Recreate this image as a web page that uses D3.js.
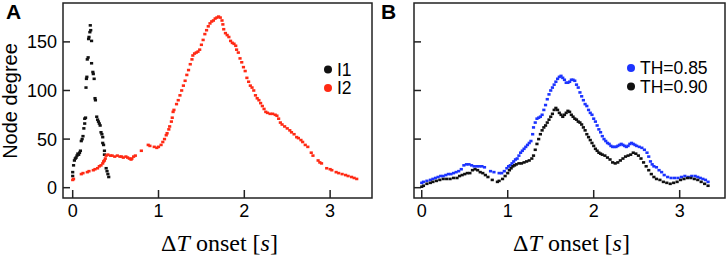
<!DOCTYPE html>
<html>

<head>
    <meta charset="utf-8">
    <title>Node degree vs onset</title>
    <script type="text/javascript" src="https://d3js.org/d3.v7.min.js"></script>
    <style>
        body {
            margin: 0;
            background: #fff;
        }

        svg {
            display: block;
        }
    </style>
</head>

<body>
</body>

<script type="text/javascript">
    var w = 726;
    var h = 257;

    // panel A, seizure I1 (black) and I2 (red): [onset s, node degree]
    var i1 = [[0.00, 12], [0.00, 16], [0.01, 23], [0.02, 28], [0.03, 30], [0.04, 31], [0.05, 33], [0.06, 35],
        [0.07, 34], [0.08, 36], [0.09, 38], [0.10, 48], [0.11, 50], [0.12, 53], [0.13, 61], [0.14, 66],
        [0.14, 71], [0.15, 72], [0.155, 103], [0.16, 112], [0.165, 114], [0.17, 132], [0.18, 134],
        [0.185, 153], [0.19, 155], [0.20, 160], [0.205, 167], [0.21, 162], [0.22, 151], [0.22, 128],
        [0.235, 119], [0.24, 117], [0.25, 112], [0.26, 92], [0.265, 90], [0.28, 73], [0.29, 70],
        [0.30, 68], [0.31, 66], [0.32, 64], [0.33, 57], [0.34, 55], [0.35, 52], [0.35, 46], [0.36, 44],
        [0.37, 38], [0.37, 34], [0.39, 20], [0.40, 17], [0.41, 14], [0.42, 11]];

    var i2 = [[0.00, 8], [0.01, 9], [0.10, 14], [0.12, 15], [0.17, 16], [0.19, 17], [0.24, 18], [0.26, 19],
        [0.29, 20], [0.31, 22], [0.33, 23], [0.35, 25], [0.36, 27], [0.37, 28], [0.38, 30], [0.39, 33],
        [0.41, 34], [0.44, 33], [0.46, 33], [0.49, 32], [0.52, 33], [0.55, 32], [0.57, 32], [0.59, 31],
        [0.62, 32], [0.64, 31], [0.66, 30], [0.68, 29], [0.69, 30], [0.71, 32], [0.73, 33], [0.80, 38],
        [0.88, 44], [0.90, 43], [0.95, 42], [0.98, 41], [1.00, 42], [1.03, 44], [1.05, 47], [1.07, 50],
        [1.09, 54], [1.10, 56], [1.12, 60], [1.13, 63], [1.15, 68], [1.16, 72], [1.17, 78], [1.18, 80],
        [1.21, 86], [1.23, 90], [1.25, 95], [1.27, 100], [1.29, 105], [1.31, 110], [1.33, 116], [1.35, 121],
        [1.37, 127], [1.39, 132], [1.40, 136], [1.42, 138], [1.44, 139], [1.46, 140], [1.48, 142], [1.50, 147],
        [1.52, 152], [1.54, 158], [1.56, 162], [1.58, 166], [1.60, 169], [1.62, 171], [1.64, 172], [1.66, 174],
        [1.68, 175], [1.70, 176], [1.72, 175], [1.74, 172], [1.75, 168], [1.76, 163], [1.78, 159], [1.80, 157],
        [1.82, 155], [1.84, 151], [1.86, 149], [1.88, 148], [1.90, 146], [1.91, 142], [1.93, 139], [1.95, 133],
        [1.97, 129], [1.99, 124], [2.01, 120], [2.03, 113], [2.05, 109], [2.07, 105], [2.09, 103], [2.11, 100],
        [2.13, 95], [2.15, 92], [2.17, 90], [2.19, 87], [2.21, 84], [2.23, 81], [2.25, 78], [2.27, 77],
        [2.30, 76], [2.33, 76], [2.36, 75], [2.38, 74], [2.40, 71], [2.42, 67], [2.44, 65], [2.47, 63],
        [2.50, 61], [2.53, 59], [2.55, 57], [2.58, 55], [2.61, 52], [2.63, 51], [2.66, 49], [2.68, 47],
        [2.71, 44], [2.74, 42], [2.78, 36], [2.80, 33], [2.86, 28], [2.88, 26], [2.90, 25], [2.96, 20],
        [3.00, 19], [3.02, 18], [3.07, 16], [3.10, 15], [3.14, 14], [3.18, 13], [3.21, 12], [3.25, 11],
        [3.28, 10], [3.31, 9]];

    // panel B, two thresholds
    var th85 = [[0.00, 5], [0.02, 6], [0.06, 7], [0.10, 8], [0.13, 9], [0.16, 10], [0.19, 11], [0.22, 12],
        [0.25, 12], [0.28, 13], [0.31, 14], [0.34, 14], [0.37, 15], [0.40, 16], [0.43, 17], [0.46, 19],
        [0.49, 23], [0.52, 24], [0.55, 24], [0.58, 23], [0.61, 22], [0.64, 22], [0.67, 22], [0.70, 22],
        [0.73, 21], [0.80, 17], [0.84, 16], [0.90, 15], [0.93, 15], [0.96, 17], [0.99, 20], [1.01, 22],
        [1.03, 23], [1.05, 25], [1.07, 27], [1.09, 29], [1.11, 30], [1.13, 33], [1.15, 36], [1.17, 38],
        [1.19, 40], [1.21, 42], [1.23, 44], [1.25, 46], [1.27, 48], [1.29, 55], [1.30, 62], [1.32, 67],
        [1.34, 71], [1.36, 72], [1.38, 73], [1.40, 75], [1.42, 80], [1.44, 85], [1.46, 91], [1.48, 96],
        [1.50, 100], [1.52, 103], [1.54, 106], [1.56, 109], [1.58, 112], [1.60, 114], [1.62, 115], [1.64, 113],
        [1.66, 111], [1.68, 108], [1.70, 108], [1.72, 109], [1.74, 111], [1.76, 111], [1.78, 110], [1.80, 106],
        [1.82, 103], [1.84, 98], [1.86, 94], [1.88, 90], [1.90, 86], [1.92, 84], [1.94, 80], [1.96, 77],
        [1.98, 75], [2.00, 71], [2.02, 68], [2.04, 64], [2.06, 60], [2.08, 57], [2.10, 53], [2.12, 50],
        [2.14, 48], [2.16, 46], [2.18, 45], [2.20, 43], [2.22, 42], [2.24, 42], [2.26, 42], [2.28, 43],
        [2.30, 44], [2.32, 45], [2.34, 44], [2.36, 43], [2.38, 42], [2.40, 43], [2.42, 45], [2.44, 46],
        [2.46, 45], [2.48, 44], [2.50, 43], [2.53, 42], [2.56, 41], [2.59, 39], [2.62, 36], [2.64, 32],
        [2.66, 27], [2.68, 24], [2.70, 22], [2.73, 21], [2.76, 18], [2.79, 16], [2.82, 13], [2.86, 11],
        [2.90, 10], [2.94, 10], [2.98, 10], [3.02, 11], [3.06, 12], [3.10, 11], [3.14, 12], [3.18, 12],
        [3.21, 11], [3.24, 10], [3.27, 9], [3.30, 8], [3.33, 6]];

    var th90 = [[0.00, 1], [0.02, 2], [0.06, 4], [0.10, 5], [0.13, 6], [0.17, 7], [0.21, 8], [0.25, 9],
        [0.29, 9], [0.33, 9], [0.37, 10], [0.41, 10], [0.44, 12], [0.47, 13], [0.50, 14], [0.53, 15],
        [0.56, 15], [0.59, 18], [0.62, 19], [0.65, 18], [0.68, 16], [0.71, 15], [0.74, 13], [0.77, 11],
        [0.82, 8], [0.88, 6], [0.90, 7], [0.94, 9], [0.97, 12], [1.00, 15], [1.02, 18], [1.04, 20],
        [1.06, 22], [1.08, 23], [1.10, 24], [1.13, 25], [1.16, 25], [1.19, 26], [1.22, 27], [1.25, 28],
        [1.28, 30], [1.30, 33], [1.32, 39], [1.34, 45], [1.36, 50], [1.38, 55], [1.40, 59], [1.42, 62],
        [1.44, 64], [1.46, 67], [1.48, 70], [1.50, 73], [1.52, 76], [1.54, 80], [1.56, 82], [1.58, 80],
        [1.60, 77], [1.62, 75], [1.64, 73], [1.66, 75], [1.68, 77], [1.70, 79], [1.72, 78], [1.74, 75],
        [1.76, 73], [1.78, 71], [1.80, 70], [1.82, 68], [1.84, 67], [1.86, 65], [1.88, 62], [1.90, 59],
        [1.92, 55], [1.94, 52], [1.96, 49], [1.98, 46], [2.00, 43], [2.02, 40], [2.04, 38], [2.06, 36],
        [2.08, 35], [2.10, 34], [2.13, 33], [2.16, 31], [2.19, 29], [2.22, 26], [2.25, 25], [2.28, 26],
        [2.31, 28], [2.34, 30], [2.37, 32], [2.40, 33], [2.43, 34], [2.46, 36], [2.49, 35], [2.52, 33],
        [2.55, 30], [2.58, 26], [2.61, 22], [2.64, 18], [2.67, 14], [2.70, 11], [2.73, 9], [2.77, 8],
        [2.81, 6], [2.85, 5], [2.89, 4], [2.93, 5], [2.97, 6], [3.01, 8], [3.05, 9], [3.09, 10],
        [3.13, 10], [3.17, 9], [3.21, 8], [3.25, 6], [3.29, 4], [3.33, 2]];

    var xTicks = [0, 1, 2, 3];
    var yTicks = [0, 50, 100, 150];

    var red = "#ff2a14";
    var blue = "#1c34ff";
    var sans = "'Liberation Sans', Arial, sans-serif";

    var svg = d3.select("body").append("svg").attr("width", w).attr("height", h);

    var yScale = d3.scaleLinear().domain([-10.6, 190]).range([198, 3]);

    function drawPanel(opts) {
        var xScale = d3.scaleLinear().domain(opts.xDomain).range([opts.left, opts.right]);
        var g = svg.append("g");

        // inward ticks
        g.selectAll(".xt").data(xTicks).enter().append("line")
            .attr("x1", function(d) { return xScale(d); })
            .attr("x2", function(d) { return xScale(d); })
            .attr("y1", 198).attr("y2", 190)
            .attr("stroke", "#222").attr("stroke-width", 1.5);
        g.selectAll(".yt").data(yTicks).enter().append("line")
            .attr("x1", opts.left).attr("x2", opts.left + 7)
            .attr("y1", function(d) { return yScale(d); })
            .attr("y2", function(d) { return yScale(d); })
            .attr("stroke", "#222").attr("stroke-width", 1.5);

        g.selectAll(".xl").data(xTicks).enter().append("text")
            .attr("x", function(d) { return xScale(d); })
            .attr("y", 217)
            .attr("text-anchor", "middle")
            .style("font", "18px " + sans)
            .text(function(d) { return d; });

        if (opts.yLabels) {
            g.selectAll(".yl").data(yTicks).enter().append("text")
                .attr("x", opts.left - 6)
                .attr("y", function(d) { return yScale(d); })
                .attr("dy", "0.36em")
                .attr("text-anchor", "end")
                .style("font", "18px " + sans)
                .text(function(d) { return d; });
        }

        // points, drawn as short dashes
        opts.series.forEach(function(s) {
            g.selectAll(null).data(s.data).enter().append("rect")
                .attr("x", function(d) { return xScale(d[0]) - 1.6; })
                .attr("y", function(d) { return yScale(d[1]) - 1.3; })
                .attr("width", 3.2)
                .attr("height", 2.6)
                .attr("fill", s.color);
        });

        // frame
        g.append("rect")
            .attr("x", opts.left).attr("y", 3)
            .attr("width", opts.right - opts.left).attr("height", 195)
            .attr("fill", "none").attr("stroke", "#222").attr("stroke-width", 1.5);

        // legend
        opts.series.forEach(function(s, i) {
            var ly = opts.legendY + i * 18.5;
            g.append("circle").attr("cx", opts.legendX).attr("cy", ly).attr("r", 4).attr("fill", s.color);
            g.append("text")
                .attr("x", opts.legendX + 9).attr("y", ly).attr("dy", "0.36em")
                .style("font", "17.5px " + sans)
                .text(s.name);
        });

        // x title
        var t = g.append("text")
            .attr("x", (opts.left + opts.right) / 2 + 2).attr("y", 251)
            .attr("text-anchor", "middle")
            .style("font", "24px 'Liberation Serif', 'Times New Roman', serif");
        t.append("tspan").text("\u0394");
        t.append("tspan").style("font-style", "italic").text("T");
        t.append("tspan").text(" onset [");
        t.append("tspan").style("font-style", "italic").text("s");
        t.append("tspan").text("]");

        // panel letter
        g.append("text")
            .attr("x", opts.letterX).attr("y", 19)
            .style("font", "bold 21px " + sans)
            .text(opts.letter);
    }

    drawPanel({
        left: 63, right: 372, xDomain: [-0.113, 3.488], yLabels: true,
        series: [{ name: "I1", color: "#111", data: i1 }, { name: "I2", color: red, data: i2 }],
        legendX: 328, legendY: 69.5, letter: "A", letterX: 6
    });

    drawPanel({
        left: 414, right: 725, xDomain: [-0.09, 3.527], yLabels: false,
        series: [{ name: "TH=0.85", color: blue, data: th85 }, { name: "TH=0.90", color: "#111", data: th90 }],
        legendX: 631, legendY: 68, letter: "B", letterX: 381
    });

    // y axis title
    svg.append("text")
        .attr("transform", "translate(17,101) rotate(-90)")
        .attr("text-anchor", "middle")
        .style("font", "20px " + sans)
        .text("Node degree");
</script>
</html>
